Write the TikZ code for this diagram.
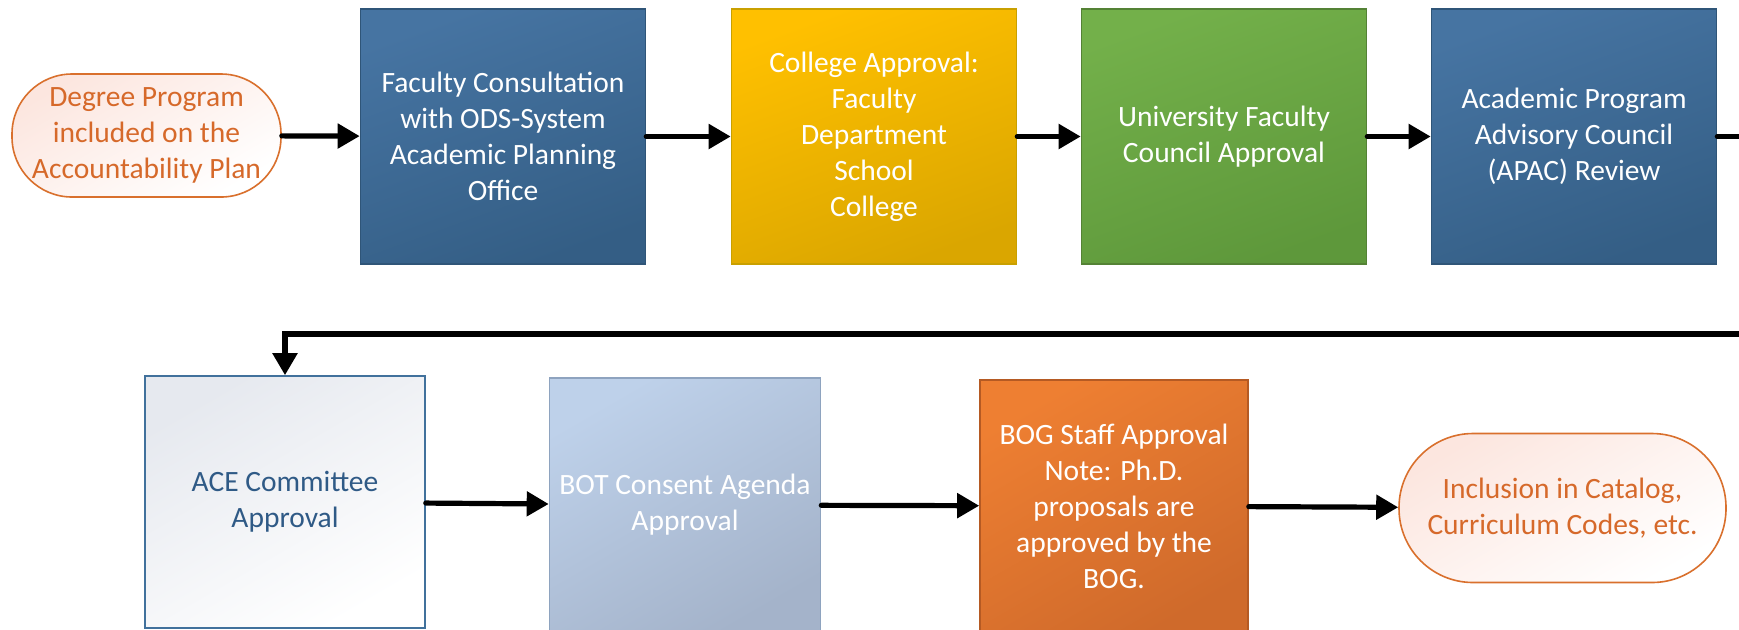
\documentclass[tikz,border=0pt]{standalone}
\usepackage{fontspec}
\setmainfont{Carlito}
\usetikzlibrary{arrows.meta}
\definecolor{blueTop}{HTML}{4674A2}
\definecolor{blueBot}{HTML}{345E85}
\definecolor{blueLine}{HTML}{2F5578}
\definecolor{goldTop}{HTML}{FFC000}
\definecolor{goldBot}{HTML}{DAA600}
\definecolor{goldLine}{HTML}{C9A000}
\definecolor{greenTop}{HTML}{73B04A}
\definecolor{greenBot}{HTML}{5E983B}
\definecolor{greenLine}{HTML}{548235}
\definecolor{aceTop}{HTML}{E6E9EF}
\definecolor{aceLine}{HTML}{41719C}
\definecolor{aceText}{HTML}{2F5A86}
\definecolor{botTop}{HTML}{BED1EA}
\definecolor{botBot}{HTML}{A4B3CA}
\definecolor{botLine}{HTML}{8EA3BF}
\definecolor{bogTop}{HTML}{EE7F32}
\definecolor{bogBot}{HTML}{CF6A2B}
\definecolor{bogLine}{HTML}{B55A23}
\definecolor{termLine}{HTML}{D9702D}
\definecolor{termText}{HTML}{D6692A}
\definecolor{termFill}{HTML}{FCE6DF}
\begin{document}
\begin{tikzpicture}[x=0.5pt,y=-0.5pt,
    stepbox/.style={draw, line width=0.8pt, minimum width=142.5pt, minimum height=127.5pt,
      align=center, font=\fontsize{14.75}{18}\selectfont, inner sep=2pt},
    bluebox/.style={stepbox, draw=blueLine, top color=blueTop, bottom color=blueBot, shading angle=20, text=white},
    goldbox/.style={stepbox, draw=goldLine, top color=goldTop, bottom color=goldBot, shading angle=20, text=white},
    greenbox/.style={stepbox, draw=greenLine, top color=greenTop, bottom color=greenBot, shading angle=20, text=white},
    acebox/.style={stepbox, minimum width=140pt, minimum height=126pt, draw=aceLine, top color=aceTop, bottom color=white, shading angle=30, text=aceText},
    botbox/.style={stepbox, minimum width=135.5pt, minimum height=127pt, draw=botLine, top color=botTop, bottom color=botBot, shading angle=30, text=white},
    bogbox/.style={stepbox, minimum width=134pt, minimum height=126pt, draw=bogLine, top color=bogTop, bottom color=bogBot, shading angle=30, text=white},
    terminal/.style={draw=termLine, line width=0.8pt, rounded corners=30pt, top color=termFill, bottom color=white,
      shading angle=30, text=termText, align=center, font=\fontsize{14.75}{18}\selectfont, inner sep=1pt},
    link/.style={line width=2.6pt, line cap=round},
    flow/.style={link, -{Triangle[length=11pt,width=12pt]}},
  ]
  \useasboundingbox (0,0) rectangle (1739,629);

  % first row
  \node[terminal, minimum width=134.5pt, minimum height=61.5pt] (degree) at (146.5,135.5)
    {Degree Program\\included on the\\Accountability Plan};
  \node[bluebox] (consult) at (503,136.5) {Faculty Consultation\\with ODS-System\\Academic Planning\\Office};
  \node[goldbox] (college) at (874,136.5) {College Approval:\\Faculty\\Department\\School\\College};
  \node[greenbox] (council) at (1224,136.5) {University Faculty\\Council Approval};
  \node[bluebox] (apac) at (1574,136.5) {Academic Program\\Advisory Council\\(APAC) Review};

  % second row
  \node[acebox] (ace) at (285,502) {ACE Committee\\Approval};
  \node[botbox] (bot) at (685,505) {BOT Consent Agenda\\Approval};
  \node[bogbox] (bog) at (1114,506) {BOG Staff Approval\\Note: Ph.D.\\proposals are\\approved by the\\BOG.};
  \node[terminal, rounded corners=37pt, minimum width=163.5pt, minimum height=74.5pt] (incl) at (1562.5,508)
    {Inclusion in Catalog,\\Curriculum Codes, etc.};

  \coordinate (exitR) at (1750,136.5);
  \coordinate (backR) at (1750,334);

  \draw[flow] (degree) -- (consult);
  \draw[flow] (consult) -- (college);
  \draw[flow] (college) -- (council);
  \draw[flow] (council) -- (apac);
  \draw[link] (apac) -- (exitR);
  \draw[flow] (backR) -| (ace);
  \draw[flow] (ace) -- (bot);
  \draw[flow] (bot) -- (bog);
  \draw[flow] (bog) -- (incl);
\end{tikzpicture}
\end{document}
